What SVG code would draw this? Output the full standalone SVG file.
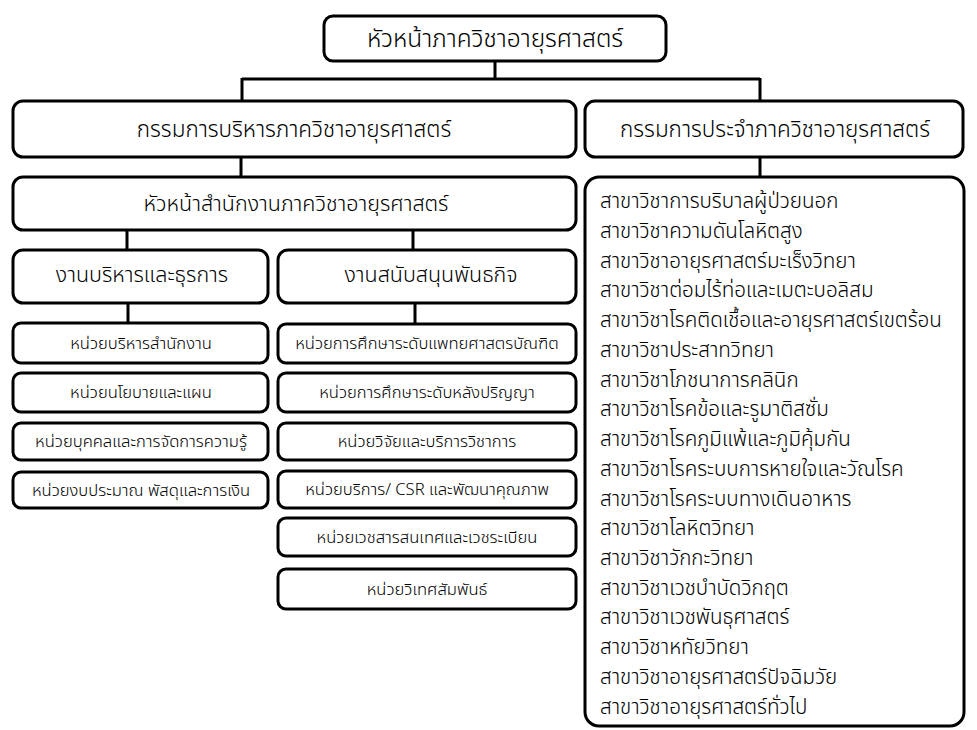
<svg xmlns="http://www.w3.org/2000/svg" width="977" height="730" viewBox="0 0 977 730">
<style>
.box{fill:#fff;stroke:#000;stroke-width:3}
.ln{fill:none;stroke:#000;stroke-width:3}
text{font-family:Tahoma,"Leelawadee UI","Noto Sans Thai","Noto Sans",sans-serif;fill:#000;font-weight:300}
.t0{font-size:24.5px;text-anchor:middle}
.t1{font-size:22.5px;text-anchor:middle}
.t2{font-size:21.5px;text-anchor:middle}
.t3{font-size:16.6px;text-anchor:middle}
.tl{font-size:20.6px}
</style>
<rect width="977" height="730" fill="#fff"/>
<g id="connectors">
<path class="ln" d="M495 61V79M242 79H760M242 78V101M760 78V101"/>
<path class="ln" d="M241 157V177"/>
<path class="ln" d="M760 157V177"/>
<path class="ln" d="M127 230V250M413 230V250"/>
<path class="ln" d="M128 303V323M415 303V323"/>
</g>
<g id="head"><rect class="box" x="324" y="16" width="342" height="45" rx="9"/><text class="t0" x="495" y="47">หัวหน้าภาควิชาอายุรศาสตร์</text></g>
<g id="exec"><rect class="box" x="13" y="101" width="563" height="56" rx="10"/><text class="t1" x="294" y="137">กรรมการบริหารภาควิชาอายุรศาสตร์</text></g>
<g id="dept"><rect class="box" x="585" y="101" width="378" height="56" rx="10"/><text class="t1" x="775" y="137">กรรมการประจำภาควิชาอายุรศาสตร์</text></g>
<g id="office"><rect class="box" x="13" y="177" width="563" height="53" rx="10"/><text class="t2" x="296" y="211">หัวหน้าสำนักงานภาควิชาอายุรศาสตร์</text></g>
<g id="admin"><rect class="box" x="13" y="250" width="255" height="53" rx="10"/><text class="t2" x="142" y="282">งานบริหารและธุรการ</text></g>
<g id="mission"><rect class="box" x="278" y="250" width="298" height="53" rx="10"/><text class="t2" x="431" y="282">งานสนับสนุนพันธกิจ</text></g>
<g id="a1"><rect class="box" x="13" y="323" width="255" height="40" rx="8"/><text class="t3" x="141" y="349">หน่วยบริหารสำนักงาน</text></g>
<g id="a2"><rect class="box" x="13" y="373" width="255" height="39" rx="8"/><text class="t3" x="141" y="398">หน่วยนโยบายและแผน</text></g>
<g id="a3"><rect class="box" x="13" y="423" width="255" height="37" rx="8"/><text class="t3" x="141" y="447">หน่วยบุคคลและการจัดการความรู้</text></g>
<g id="a4"><rect class="box" x="13" y="472" width="255" height="36" rx="8"/><text class="t3" x="141" y="496">หน่วยงบประมาณ พัสดุและการเงิน</text></g>
<g id="m1"><rect class="box" x="278" y="324" width="298" height="39" rx="8"/><text class="t3" x="427" y="349">หน่วยการศึกษาระดับแพทยศาสตรบัณฑิต</text></g>
<g id="m2"><rect class="box" x="278" y="373" width="298" height="39" rx="8"/><text class="t3" x="427" y="398">หน่วยการศึกษาระดับหลังปริญญา</text></g>
<g id="m3"><rect class="box" x="278" y="423" width="298" height="37" rx="8"/><text class="t3" x="427" y="447">หน่วยวิจัยและบริการวิชาการ</text></g>
<g id="m4"><rect class="box" x="278" y="471" width="298" height="37" rx="8"/><text class="t3" x="427" y="495">หน่วยบริการ/ CSR และพัฒนาคุณภาพ</text></g>
<g id="m5"><rect class="box" x="278" y="518" width="298" height="38" rx="8"/><text class="t3" x="427" y="543">หน่วยเวชสารสนเทศและเวชระเบียน</text></g>
<g id="m6"><rect class="box" x="278" y="569" width="298" height="40" rx="8"/><text class="t3" x="427" y="595">หน่วยวิเทศสัมพันธ์</text></g>
<g id="divisions"><rect class="box" x="585" y="177" width="379" height="549" rx="14"/>
<text class="tl" x="600" y="208">สาขาวิชาการบริบาลผู้ป่วยนอก</text>
<text class="tl" x="600" y="238">สาขาวิชาความดันโลหิตสูง</text>
<text class="tl" x="600" y="268">สาขาวิชาอายุรศาสตร์มะเร็งวิทยา</text>
<text class="tl" x="600" y="297">สาขาวิชาต่อมไร้ท่อและเมตะบอลิสม</text>
<text class="tl" x="600" y="327">สาขาวิชาโรคติดเชื้อและอายุรศาสตร์เขตร้อน</text>
<text class="tl" x="600" y="357">สาขาวิชาประสาทวิทยา</text>
<text class="tl" x="600" y="387">สาขาวิชาโภชนาการคลินิก</text>
<text class="tl" x="600" y="416">สาขาวิชาโรคข้อและรูมาติสซั่ม</text>
<text class="tl" x="600" y="446">สาขาวิชาโรคภูมิแพ้และภูมิคุ้มกัน</text>
<text class="tl" x="600" y="476">สาขาวิชาโรคระบบการหายใจและวัณโรค</text>
<text class="tl" x="600" y="506">สาขาวิชาโรคระบบทางเดินอาหาร</text>
<text class="tl" x="600" y="535">สาขาวิชาโลหิตวิทยา</text>
<text class="tl" x="600" y="565">สาขาวิชาวักกะวิทยา</text>
<text class="tl" x="600" y="595">สาขาวิชาเวชบำบัดวิกฤต</text>
<text class="tl" x="600" y="624">สาขาวิชาเวชพันธุศาสตร์</text>
<text class="tl" x="600" y="654">สาขาวิชาหทัยวิทยา</text>
<text class="tl" x="600" y="684">สาขาวิชาอายุรศาสตร์ปัจฉิมวัย</text>
<text class="tl" x="600" y="714">สาขาวิชาอายุรศาสตร์ทั่วไป</text>
</g>
</svg>
